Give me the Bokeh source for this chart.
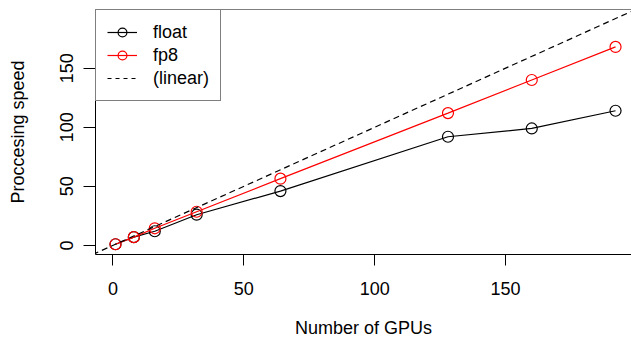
from bokeh.plotting import figure
from bokeh.models import Range1d, FixedTicker, Slope, Span, Legend, LegendItem
from bokeh.embed import file_html
from bokeh.resources import INLINE

gpus = [1, 8, 16, 32, 64, 128, 160, 192]
speed_float = [1, 7, 12, 26, 46, 92, 99, 114]
speed_fp8 = [1, 7, 14.5, 28.5, 56.5, 112, 140, 168]
x_ticks = [0, 50, 100, 150]
y_ticks = [0, 50, 100, 150]
labels = ["float", "fp8", "(linear)"]

FONT = "Liberation Sans"
FS = "18px"

xmin, xmax = -6.64, 198.1
ymin, ymax = -7.68, 199.68

p = figure(width=631, height=347, output_backend="svg", toolbar_location=None,
           x_range=Range1d(xmin, xmax), y_range=Range1d(ymin, ymax),
           min_border_left=95, min_border_right=0, min_border_top=9, min_border_bottom=93)
p.grid.visible = False
p.outline_line_color = None
p.background_fill_color = "white"
p.border_fill_color = "white"

for ax, ticks in ((p.xaxis[0], x_ticks), (p.yaxis[0], y_ticks)):
    ax.ticker = FixedTicker(ticks=ticks)
    ax.minor_tick_line_color = None
    ax.major_tick_in = 0
    ax.major_tick_out = 11
    ax.major_tick_line_color = "black"
    ax.axis_line_color = "black"
    ax.major_label_text_font = FONT
    ax.major_label_text_font_size = FS
    ax.major_label_text_color = "black"
    ax.axis_label_text_font = FONT
    ax.axis_label_text_font_size = FS
    ax.axis_label_text_font_style = "normal"
    ax.axis_label_text_color = "black"

p.xaxis.axis_label = "Number of GPUs"
p.yaxis.axis_label = "Proccesing speed"
p.yaxis.major_label_orientation = "vertical"
p.yaxis.major_tick_out = 12
p.xaxis.major_label_standoff = 16
p.yaxis.major_label_standoff = 10
p.xaxis.axis_label_standoff = 20
p.yaxis.axis_label_standoff = 30

p.add_layout(Span(location=ymax, dimension="width", line_color="black", line_width=1))

lin = Slope(gradient=1, y_intercept=0, line_color="black", line_dash="6 4", line_width=1.2)
p.add_layout(lin)

l1 = p.line(gpus, speed_float, line_color="black", line_width=1.2)
s1 = p.scatter(gpus, speed_float, marker="circle", size=11, fill_color=None,
               line_color="black", line_width=1.2)
l2 = p.line(gpus, speed_fp8, line_color="red", line_width=1.2)
s2 = p.scatter(gpus, speed_fp8, marker="circle", size=11, fill_color=None,
               line_color="red", line_width=1.2)
# invisible renderer to represent the dashed reference line in the legend
l3 = p.line([xmin, xmin], [ymin, ymin], line_color="black", line_dash="4 4", line_width=1.2)

legend = Legend(items=[LegendItem(label=labels[0], renderers=[l1, s1]),
                       LegendItem(label=labels[1], renderers=[l2, s2]),
                       LegendItem(label=labels[2], renderers=[l3])],
                location="top_left", margin=0, padding=11, spacing=1,
                glyph_width=30, glyph_height=22, label_height=22, label_standoff=16,
                label_text_font=FONT, label_text_font_size=FS, label_text_color="black",
                border_line_color="black", border_line_width=1,
                background_fill_color="white", background_fill_alpha=1.0)
p.add_layout(legend)

open("out.html", "w").write(file_html(p, INLINE))
